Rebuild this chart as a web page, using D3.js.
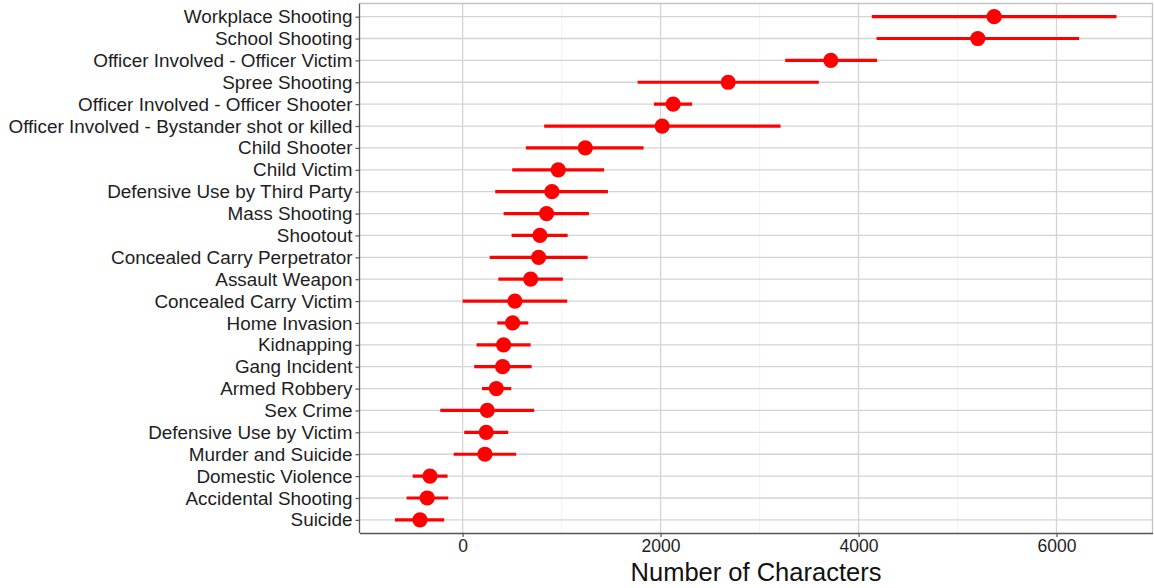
<!DOCTYPE html>
<html>
<head>
<meta charset="utf-8">
<script src="https://cdn.jsdelivr.net/npm/d3@7"></script>
<style>
  html, body { margin: 0; padding: 0; background: #fff; }
  svg { display: block; font-family: "Liberation Sans", Arial, sans-serif; }
</style>
</head>
<body>
<svg id="chart" width="1154" height="588"></svg>
<script>
// Incident categories, top to bottom
const categories = [
  "Workplace Shooting", "School Shooting", "Officer Involved - Officer Victim",
  "Spree Shooting", "Officer Involved - Officer Shooter",
  "Officer Involved - Bystander shot or killed", "Child Shooter", "Child Victim",
  "Defensive Use by Third Party", "Mass Shooting", "Shootout",
  "Concealed Carry Perpetrator", "Assault Weapon", "Concealed Carry Victim",
  "Home Invasion", "Kidnapping", "Gang Incident", "Armed Robbery", "Sex Crime",
  "Defensive Use by Victim", "Murder and Suicide", "Domestic Violence",
  "Accidental Shooting", "Suicide"
];
// Point estimates (number of characters)
const estimates = [
  5370, 5205, 3720, 2683, 2127, 2016, 1239, 966, 902, 848, 781, 768, 687,
  528, 505, 414, 404, 340, 249, 238, 225, -330, -358, -431
];
// Interval lower bounds
const lower = [
  4134, 4182, 3259, 1768, 1932, 824, 639, 501, 329, 414, 495, 273, 360,
  0, 350, 141, 117, 195, -226, 16, -91, -505, -566, -684
];
// Interval upper bounds
const upper = [
  6606, 6228, 4188, 3599, 2319, 3212, 1828, 1430, 1468, 1276, 1061, 1263, 1013,
  1057, 663, 687, 697, 491, 723, 461, 541, -152, -145, -186
];
const xTicks = [0, 2000, 4000, 6000];
const xMinor = [1000, 3000, 5000];
const xTitle = "Number of Characters";

const rows = categories.map((c, i) => ({ cat: c, est: estimates[i], lo: lower[i], hi: upper[i] }));

const svg = d3.select("#chart");
const panel = { left: 359.5, right: 1152.5, top: 3.5, bottom: 533 };

const x = d3.scaleLinear().domain([-1042, 6970]).range([panel.left, panel.right]);
const y = d3.scalePoint().domain(categories).range([panel.top, panel.bottom]).padding(0.6);

// panel background
svg.append("rect")
  .attr("x", panel.left).attr("y", panel.top)
  .attr("width", panel.right - panel.left).attr("height", panel.bottom - panel.top)
  .attr("fill", "#fff");

const grid = svg.append("g");
// minor vertical grid
grid.selectAll("line.minor").data(xMinor).join("line")
  .attr("x1", d => x(d)).attr("x2", d => x(d))
  .attr("y1", panel.top).attr("y2", panel.bottom)
  .attr("stroke", "#efefef").attr("stroke-width", 0.8);
// major vertical grid
grid.selectAll("line.majx").data(xTicks).join("line")
  .attr("x1", d => x(d)).attr("x2", d => x(d))
  .attr("y1", panel.top).attr("y2", panel.bottom)
  .attr("stroke", "#d4d4d4").attr("stroke-width", 1.3);
// horizontal grid
grid.selectAll("line.majy").data(categories).join("line")
  .attr("x1", panel.left).attr("x2", panel.right)
  .attr("y1", d => y(d)).attr("y2", d => y(d))
  .attr("stroke", "#d4d4d4").attr("stroke-width", 1.3);

// panel border (top/right light)
svg.append("path")
  .attr("d", `M${panel.left},${panel.top}H${panel.right}V${panel.bottom}`)
  .attr("fill", "none").attr("stroke", "#c4c4c4").attr("stroke-width", 1.3);

// interval segments
svg.append("g").selectAll("line").data(rows).join("line")
  .attr("x1", d => x(d.lo)).attr("x2", d => x(d.hi))
  .attr("y1", d => y(d.cat)).attr("y2", d => y(d.cat))
  .attr("stroke", "#ff0000").attr("stroke-width", 3.2);

// point estimates
svg.append("g").selectAll("circle").data(rows).join("circle")
  .attr("cx", d => x(d.est)).attr("cy", d => y(d.cat))
  .attr("r", 7.6).attr("fill", "#ff0000");

// x axis
const xAxis = svg.append("g")
  .attr("transform", `translate(0,${panel.bottom})`)
  .call(d3.axisBottom(x).tickValues(xTicks).tickFormat(d3.format("d"))
    .tickSize(4).tickSizeOuter(0).tickPadding(3));
xAxis.select(".domain").attr("stroke", "#555").attr("stroke-width", 1.3);
xAxis.selectAll(".tick line").attr("stroke", "#555").attr("stroke-width", 1.2);
xAxis.selectAll(".tick text")
  .attr("font-size", 17.5).attr("fill", "#1e1e1e")
  .attr("font-family", "Liberation Sans, Arial, sans-serif");

// y axis
const yAxis = svg.append("g")
  .attr("transform", `translate(${panel.left},0)`)
  .call(d3.axisLeft(y).tickSize(4).tickSizeOuter(0).tickPadding(3));
yAxis.select(".domain").attr("stroke", "#555").attr("stroke-width", 1.3)
  .attr("d", `M0,${panel.top}V${panel.bottom}`);
yAxis.selectAll(".tick line").attr("stroke", "#555").attr("stroke-width", 1.2);
yAxis.selectAll(".tick text")
  .attr("font-size", 18.9).attr("fill", "#1e1e1e")
  .attr("font-family", "Liberation Sans, Arial, sans-serif");

// x axis title
svg.append("text")
  .attr("x", 756)
  .attr("y", 581)
  .attr("text-anchor", "middle")
  .attr("font-size", 25.5).attr("fill", "#111")
  .text(xTitle);
</script>
</body>
</html>
